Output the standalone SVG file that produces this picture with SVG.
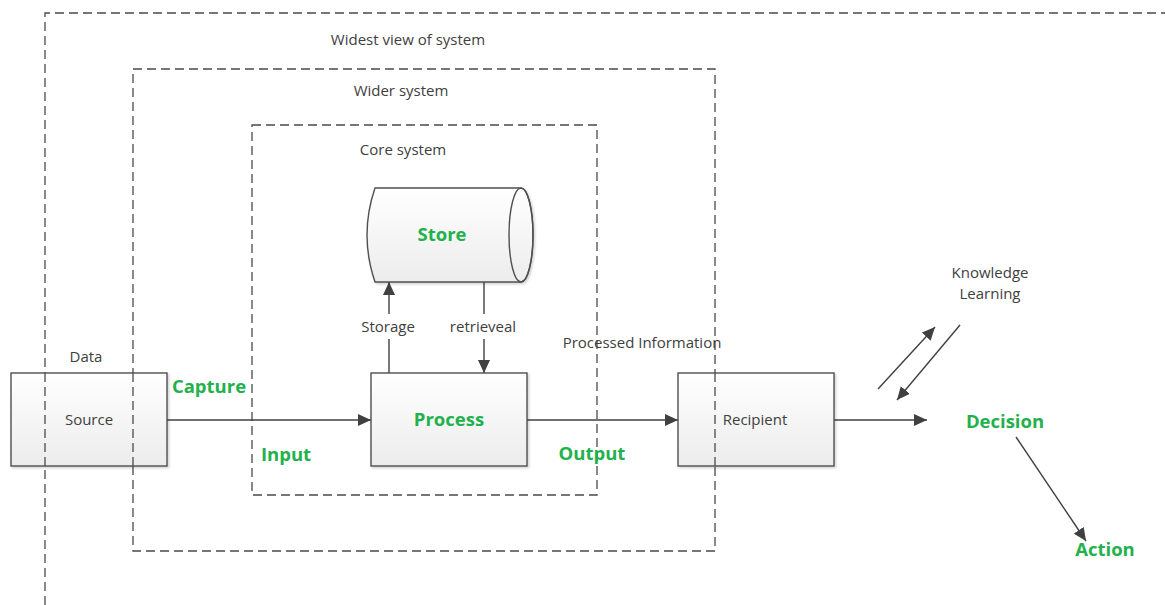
<svg xmlns="http://www.w3.org/2000/svg" width="1165" height="605" viewBox="0 0 1165 605">
  <style>
    .frame { fill: none; stroke: #4a4a4a; stroke-width: 1.3; stroke-dasharray: 9 5; }
    .box { fill: url(#boxFill); stroke: #505050; stroke-width: 1.4; }
    .link { fill: none; stroke: #404040; stroke-width: 1.4; }
    .lbl { font-family: "Open Sans", "Liberation Sans", sans-serif; font-size: 15px; fill: #404040; text-anchor: middle; }
    .key { font-family: "Open Sans", "Liberation Sans", sans-serif; font-size: 18.5px; font-weight: bold; fill: #22b14c; text-anchor: middle; }
  </style>
  <defs>
    <linearGradient id="boxFill" x1="0" y1="0" x2="0" y2="1">
      <stop offset="0" stop-color="#ffffff"/>
      <stop offset="1" stop-color="#ececec"/>
    </linearGradient>
    <marker id="arrow" viewBox="0 0 13 12" refX="13" refY="6" markerWidth="13" markerHeight="12" markerUnits="userSpaceOnUse" orient="auto">
      <path d="M0,0 L13,6 L0,12 Z" fill="#404040"/>
    </marker>
    <filter id="shadow" x="-10%" y="-10%" width="130%" height="130%">
      <feDropShadow dx="1.5" dy="1.5" stdDeviation="1" flood-color="#000" flood-opacity="0.18"/>
    </filter>
  </defs>
  <rect width="1165" height="605" fill="#ffffff"/>

  <!-- system boundaries -->
  <g id="boundaries">
    <path class="frame" d="M45,605 L45,13 L1165,13"/>
    <rect class="frame" x="133" y="69" width="582" height="482"/>
    <rect class="frame" x="252" y="125" width="345" height="370"/>
    <text class="lbl" x="408" y="45">Widest view of system</text>
    <text class="lbl" x="401" y="96">Wider system</text>
    <text class="lbl" x="403" y="155">Core system</text>
  </g>

  <!-- connectors -->
  <g id="connectors">
    <line class="link" x1="167" y1="420" x2="371" y2="420" marker-end="url(#arrow)"/>
    <line class="link" x1="527" y1="420" x2="678" y2="420" marker-end="url(#arrow)"/>
    <line class="link" x1="834" y1="420" x2="927" y2="420" marker-end="url(#arrow)"/>
    <line class="link" x1="389" y1="373" x2="389" y2="339"/>
    <line class="link" x1="389" y1="314" x2="389" y2="282" marker-end="url(#arrow)"/>
    <line class="link" x1="484" y1="282" x2="484" y2="314"/>
    <line class="link" x1="484" y1="339" x2="484" y2="373" marker-end="url(#arrow)"/>
    <line class="link" x1="878" y1="389" x2="935" y2="327" marker-end="url(#arrow)"/>
    <line class="link" x1="960" y1="325" x2="897" y2="400" marker-end="url(#arrow)"/>
    <line class="link" x1="1016" y1="437" x2="1086" y2="541" marker-end="url(#arrow)"/>
  </g>

  <!-- nodes -->
  <g id="source">
    <rect class="box" x="11" y="373" width="156" height="93" filter="url(#shadow)"/>
    <text class="lbl" x="86" y="362">Data</text>
    <text class="lbl" x="89" y="425">Source</text>
  </g>
  <g id="store">
    <path class="box" d="M375,188 L521,188 A12,47 0 0 1 521,282 L375,282 Q359,235 375,188 Z" filter="url(#shadow)"/>
    <ellipse cx="521" cy="235" rx="12" ry="47" fill="none" stroke="#505050" stroke-width="1.4"/>
    <text class="key" x="442" y="241">Store</text>
  </g>
  <g id="process">
    <rect class="box" x="371" y="373" width="156" height="93" filter="url(#shadow)"/>
    <text class="key" x="449" y="426">Process</text>
  </g>
  <g id="recipient">
    <rect class="box" x="678" y="373" width="156" height="93" filter="url(#shadow)"/>
    <text class="lbl" x="755" y="425">Recipient</text>
  </g>

  <!-- boundary lines drawn again where they pass over the boxes -->
  <line class="frame" x1="45" y1="373" x2="45" y2="466"/>
  <line class="frame" x1="133" y1="373" x2="133" y2="466"/>
  <line class="frame" x1="715" y1="373" x2="715" y2="466"/>

  <!-- flow labels -->
  <g id="labels">
    <text class="key" x="209" y="393">Capture</text>
    <text class="key" x="286" y="461">Input</text>
    <text class="key" x="592" y="460">Output</text>
    <text class="lbl" x="388" y="332">Storage</text>
    <text class="lbl" x="483" y="332">retrieveal</text>
    <text class="lbl" x="642" y="348">Processed Information</text>
    <text class="lbl" x="990" y="278">Knowledge</text>
    <text class="lbl" x="990" y="299">Learning</text>
    <text class="key" x="1005" y="428">Decision</text>
    <text class="key" x="1105" y="556">Action</text>
  </g>
</svg>
